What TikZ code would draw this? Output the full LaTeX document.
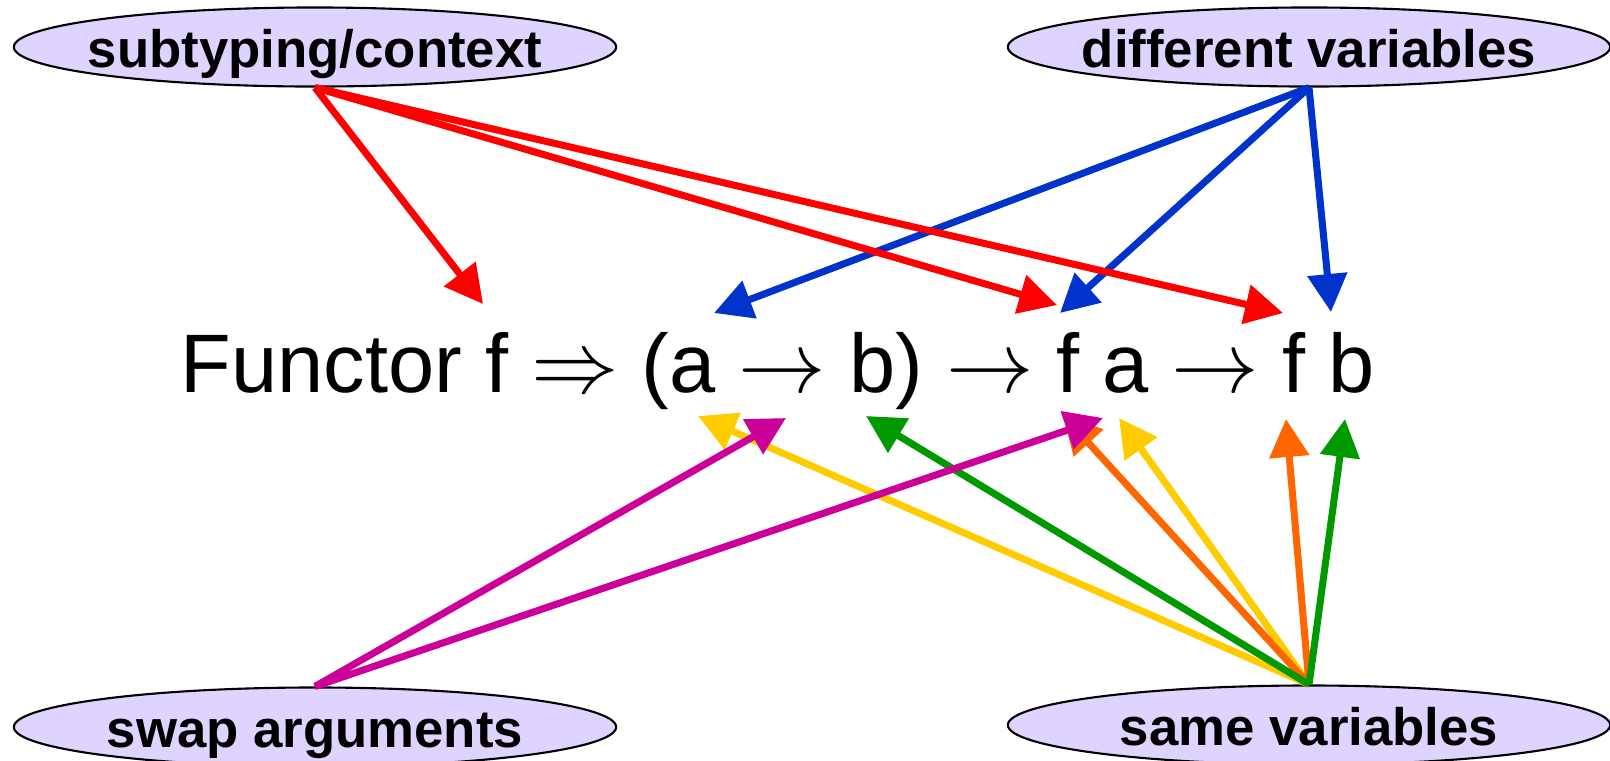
\documentclass[tikz,border=0pt]{standalone}
\usepackage{fontspec}
\setmainfont{Liberation Sans}
\usetikzlibrary{shapes.geometric, arrows.meta}

\definecolor{lavender}{RGB}{222,212,255}
\definecolor{ared}{RGB}{255,0,0}
\definecolor{ablue}{RGB}{0,51,204}
\definecolor{amagenta}{RGB}{204,0,153}
\definecolor{ayellow}{RGB}{255,204,0}
\definecolor{agreen}{RGB}{0,153,0}
\definecolor{aorange}{RGB}{255,102,0}

\begin{document}
\begin{tikzpicture}[x=0.01cm, y=-0.01cm,
  tag/.style={ellipse, draw, line width=0.6pt, fill=lavender, minimum width=6.02cm,
    minimum height=0.79cm, inner ysep=0pt, inner xsep=-0.2cm,
    text height=11.7pt, text depth=0pt,
    font=\fontsize{15}{18}\selectfont\bfseries},
  link/.style={line width=2pt, -{Triangle[length=10.8pt, width=11pt]}}]

\useasboundingbox (0,0) rectangle (1610,760);

\node (sub) at (315,47) [tag] {subtyping/context};
\node (diff) at (1309,47) [tag] {different variables};
\node (swap) at (315,727) [tag] {swap arguments};
\node (same) at (1309,725) [tag] {same variables};

\node (expr) at (180,392) [anchor=base west, inner sep=0pt, font=\fontsize{23.6}{28}\selectfont]
  {Functor f $\Rightarrow$ (a $\rightarrow$ b) $\rightarrow$ f a $\rightarrow$ f b};

% tips above the type
\coordinate (funtop) at (483,304);
\coordinate (atop) at (714,313);
\coordinate (fatopr) at (1057,305);
\coordinate (fatopb) at (1060,313);
\coordinate (fbtopr) at (1283,313);
\coordinate (fbtopb) at (1331,312);

% tips below the type
\coordinate (alowy) at (698,416);
\coordinate (alowm) at (786,418);
\coordinate (blow) at (866,416);
\coordinate (falowo) at (1063,415);
\coordinate (falowm) at (1103,418);
\coordinate (falowy) at (1119,418);
\coordinate (fblowo) at (1286,419);
\coordinate (fblowg) at (1345,419);

\draw[link, ablue] (diff.south) -- (atop);
\draw[link, ablue] (diff.south) -- (fatopb);
\draw[link, ablue] (diff.south) -- (fbtopb);

\draw[link, ared] (sub.south) -- (funtop);
\draw[link, ared] (sub.south) -- (fatopr);
\draw[link, ared] (sub.south) -- (fbtopr);

\draw[link, ayellow] (same.north) -- (alowy);
\draw[link, ayellow] (same.north) -- (falowy);
\draw[link, aorange] (same.north) -- (falowo);
\draw[link, aorange] (same.north) -- (fblowo);
\draw[link, agreen] (same.north) -- (blow);
\draw[link, agreen] (same.north) -- (fblowg);

\draw[link, amagenta] (swap.north) -- (alowm);
\draw[link, amagenta] (swap.north) -- (falowm);

\end{tikzpicture}
\end{document}
